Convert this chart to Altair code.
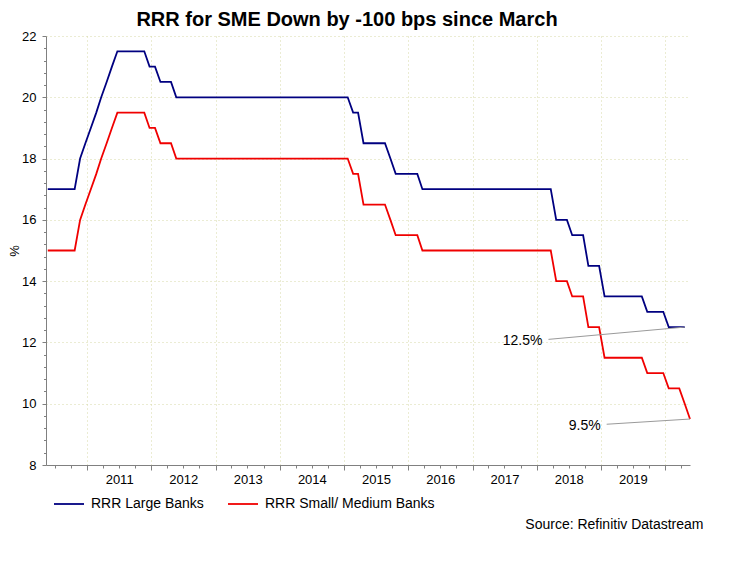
import altair as alt
import pandas as pd

# ---------------- data (monthly) ----------------
series_names = ["RRR Large Banks", "RRR Small/ Medium Banks"]
series_colors = ["#000080", "#f00000"]

# May 2010 .. Apr 2020
large_banks = [
    17, 17, 17, 17, 17, 17, 18, 18.5,                               # 2010 May-Dec
    19, 19.5, 20, 20.5, 21, 21.5, 21.5, 21.5, 21.5, 21.5, 21.5, 21, # 2011
    21, 20.5, 20.5, 20.5, 20, 20, 20, 20, 20, 20, 20, 20,           # 2012
    20, 20, 20, 20, 20, 20, 20, 20, 20, 20, 20, 20,                 # 2013
    20, 20, 20, 20, 20, 20, 20, 20, 20, 20, 20, 20,                 # 2014
    20, 19.5, 19.5, 18.5, 18.5, 18.5, 18.5, 18.5, 18, 17.5, 17.5, 17.5,  # 2015
    17.5, 17.5, 17, 17, 17, 17, 17, 17, 17, 17, 17, 17,             # 2016
    17, 17, 17, 17, 17, 17, 17, 17, 17, 17, 17, 17,                 # 2017
    17, 17, 17, 16, 16, 16, 15.5, 15.5, 15.5, 14.5, 14.5, 14.5,     # 2018
    13.5, 13.5, 13.5, 13.5, 13.5, 13.5, 13.5, 13.5, 13, 13, 13, 13, # 2019
    12.5, 12.5, 12.5, 12.5,                                         # 2020 Jan-Apr
]

# May 2010 .. May 2020
small_banks = [
    15, 15, 15, 15, 15, 15, 16, 16.5,                               # 2010 May-Dec
    17, 17.5, 18, 18.5, 19, 19.5, 19.5, 19.5, 19.5, 19.5, 19.5, 19, # 2011
    19, 18.5, 18.5, 18.5, 18, 18, 18, 18, 18, 18, 18, 18,           # 2012
    18, 18, 18, 18, 18, 18, 18, 18, 18, 18, 18, 18,                 # 2013
    18, 18, 18, 18, 18, 18, 18, 18, 18, 18, 18, 18,                 # 2014
    18, 17.5, 17.5, 16.5, 16.5, 16.5, 16.5, 16.5, 16, 15.5, 15.5, 15.5,  # 2015
    15.5, 15.5, 15, 15, 15, 15, 15, 15, 15, 15, 15, 15,             # 2016
    15, 15, 15, 15, 15, 15, 15, 15, 15, 15, 15, 15,                 # 2017
    15, 15, 15, 14, 14, 14, 13.5, 13.5, 13.5, 12.5, 12.5, 12.5,     # 2018
    11.5, 11.5, 11.5, 11.5, 11.5, 11.5, 11.5, 11.5, 11, 11, 11, 11, # 2019
    10.5, 10.5, 10.5, 10, 9.5,                                      # 2020 Jan-May
]

# end-of-series labels with leader lines
ann_labels = ["12.5%", "9.5%"]
ann_label_dates = ["2018-03-09T00:00:00", "2019-02-03T00:00:00"]
ann_label_values = [12.1, 9.33]
ann_end_dates = ["2020-04-22T00:00:00", "2020-05-22T00:00:00"]
ann_end_values = [12.5, 9.5]

title_text = "RRR for SME Down by -100 bps since March"
source_text = "Source: Refinitiv Datastream"


def monthly_dates(n, year=2010, month=5, day=22):
    out = []
    for _ in range(n):
        out.append(f"{year}-{month:02d}-{day:02d}T00:00:00")
        month += 1
        if month > 12:
            month = 1
            year += 1
    return out


rows = []
for name, vals in zip(series_names, [large_banks, small_banks]):
    for d, v in zip(monthly_dates(len(vals)), vals):
        rows.append({"date": d, "value": v, "series": name})
df = pd.DataFrame(rows)

ann_df = pd.DataFrame({
    "label": ann_labels,
    "d0": ann_label_dates, "v0": ann_label_values,
    "d1": ann_end_dates, "v1": ann_end_values,
})

FONT = "Liberation Sans"
GRID = "#d6d9a6"
AXIS = "#808080"

# quarterly ticks on x, 0.4 ticks on y
x_tick_values = []
for y in range(2010, 2021):
    for m in (1, 4, 7, 10):
        if (y, m) < (2010, 7) or (y, m) > (2020, 4):
            continue
        x_tick_values.append(alt.DateTime(year=y, month=m, date=1))
y_tick_values = [round(8 + 0.4 * i, 1) for i in range(36)]

x_scale = alt.Scale(
    domain=[alt.DateTime(year=2010, month=5, date=12),
            alt.DateTime(year=2020, month=5, date=22)],
    nice=False,
)
y_scale = alt.Scale(domain=[8, 22], nice=False, zero=False)

is_jan = "month(datum.value) == 0"
is_even = "datum.value % 2 == 0"

x_axis = alt.Axis(
    values=x_tick_values,
    tickCount=500,
    labelExpr=f"({is_jan}) && year(datum.value) < 2020 ? timeFormat(datum.value, '%Y') : ''",
    labelOffset=32,
    labelOverlap=False,
    labelFlush=False,
    labelFont=FONT, labelFontSize=13, labelColor="#000000",
    labelPadding=3,
    tickSize={"condition": {"test": is_jan, "value": 5}, "value": 3},
    tickColor=AXIS, domainColor=AXIS,
    grid=True, gridColor=GRID, gridDash=[1, 3],
    gridOpacity={"condition": {"test": is_jan, "value": 1}, "value": 0},
    title=source_text, titleFont=FONT, titleFontSize=14, titleFontWeight="normal",
    titleColor="#000000", titleAlign="right", titleBaseline="alphabetic",
    titleX=657, titleY=63, titleAnchor="end",
)

y_axis = alt.Axis(
    values=y_tick_values,
    tickCount=500,
    labelExpr=f"{is_even} ? format(datum.value, 'd') : ''",
    labelOverlap=False,
    labelFlush=False,
    labelFont=FONT, labelFontSize=13, labelColor="#000000",
    labelPadding=6,
    tickSize={"condition": {"test": is_even, "value": 4}, "value": 2.5},
    tickColor=AXIS, domainColor=AXIS,
    grid=True, gridColor=GRID, gridDash=[1, 3],
    gridOpacity={"condition": {"test": is_even, "value": 1}, "value": 0},
    title="%", titleFont=FONT, titleFontSize=13, titleFontWeight="normal",
    titleColor="#000000", titlePadding=0,
)

lines = alt.Chart(df).mark_line(strokeWidth=1.8, interpolate="linear").encode(
    x=alt.X("date:T", scale=x_scale, axis=x_axis),
    y=alt.Y("value:Q", scale=y_scale, axis=y_axis),
    color=alt.Color(
        "series:N",
        scale=alt.Scale(domain=series_names, range=series_colors),
        legend=alt.Legend(
            orient="none", legendX=7, legendY=452, direction="horizontal",
            title=None, symbolType="stroke", symbolSize=900, symbolStrokeWidth=1.8,
            labelFont=FONT, labelFontSize=14, labelColor="#000000", labelLimit=400,
            labelOffset=6, columnPadding=20, padding=0,
        ),
    ),
)

leaders = alt.Chart(ann_df).mark_rule(color="#9a9a9a", strokeWidth=1).encode(
    x="d0:T", y="v0:Q", x2="d1:T", y2="v1:Q",
)

labels = alt.Chart(ann_df).mark_text(
    align="right", baseline="middle", dx=-6, dy=2,
    font=FONT, fontSize=14, color="#000000",
).encode(
    x="d0:T", y="v0:Q", text="label:N",
)

chart = alt.layer(lines, leaders, labels).properties(
    width=644,
    height=429,
    title=alt.TitleParams(
        title_text, font=FONT, fontSize=20, fontWeight="bold", color="#000000",
        anchor="middle", dx=-21, offset=0,
    ),
    autosize=alt.AutoSizeParams(type="none"),
    padding={"left": 38, "top": 28, "right": 30, "bottom": 90},
    background="#ffffff",
).configure_view(stroke=None)

chart.save("out.html", embed_options={"renderer": "svg", "actions": False})
